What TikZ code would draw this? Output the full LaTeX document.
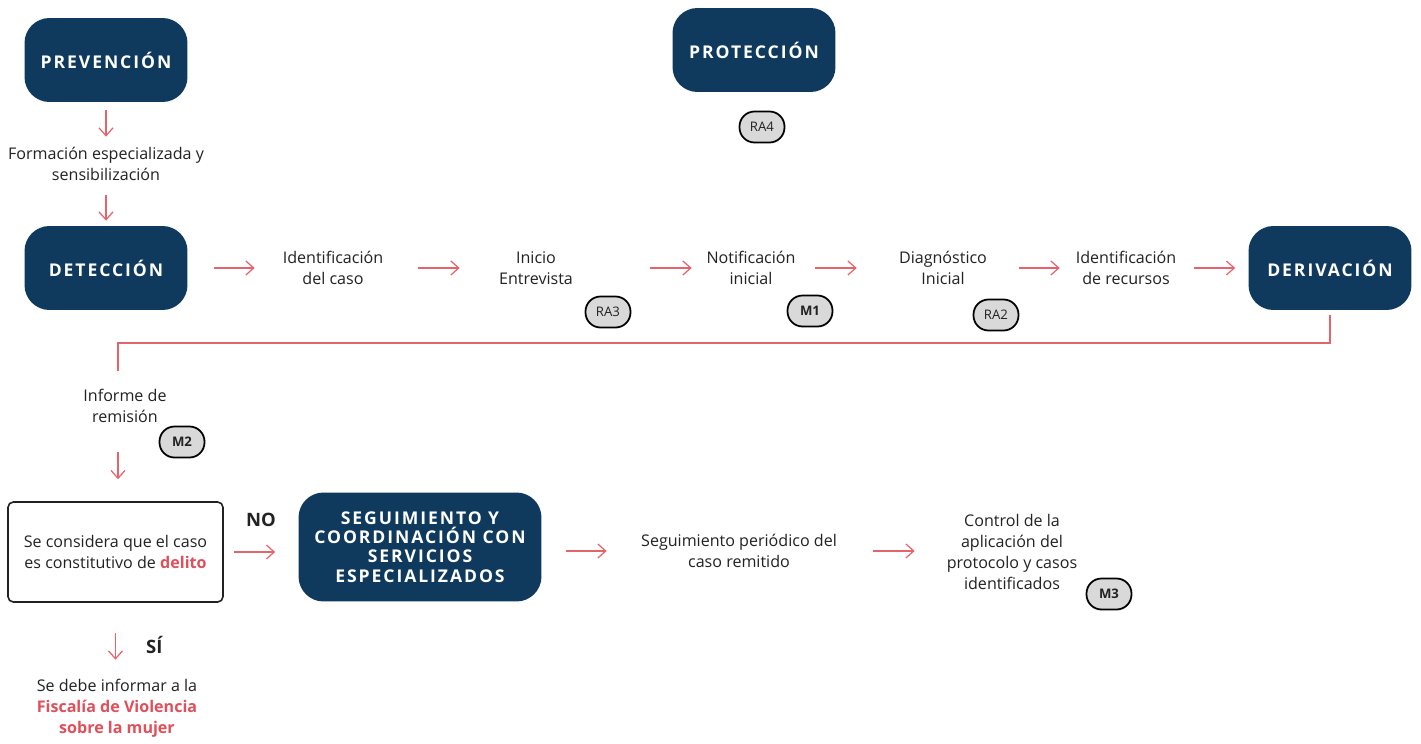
\documentclass[tikz,border=0pt]{standalone}
\usepackage{fontspec}
\setmainfont{Open Sans}
\newfontfamily\headfont[LetterSpace=11]{Open Sans}
\usetikzlibrary{arrows.meta}

\definecolor{navy}{HTML}{0F3A5E}
\definecolor{flecharoja}{HTML}{E5646B}
\definecolor{rojo}{HTML}{E04F5A}
\definecolor{gris}{HTML}{D9D9D9}
\definecolor{texto}{HTML}{222222}

\tikzset{
  fase/.style={fill=navy, rounded corners=0.5cm, minimum width=3.26cm, minimum height=1.68cm,
    text=white, align=center, inner sep=0pt, font=\headfont\bfseries\fontsize{10}{10.9}\selectfont},
  paso/.style={align=center, inner sep=0pt, text=texto, font=\fontsize{9.15}{12}\selectfont},
  marca/.style={draw=black, fill=gris, line width=1pt, rounded corners=0.3cm, minimum width=0.9cm,
    minimum height=0.62cm, inner sep=0pt, text=texto, font=\fontsize{7.5}{8}\selectfont},
  etiqueta/.style={inner sep=0pt, text=texto, font=\bfseries\fontsize{10.5}{12}\selectfont},
  flecha/.style={draw=flecharoja, line width=0.7pt, -{Straight Barb[length=4.5pt,width=8pt]}},
  linea/.style={draw=flecharoja, line width=0.8pt}
}

\begin{document}
\begin{tikzpicture}[x=0.02cm,y=-0.02cm]
  \useasboundingbox (0,0) rectangle (1421,744);
  % fases
  \node[fase] (prev) at (106,60) {PREVENCIÓN};
  \node[fase] (prot) at (754,50) {PROTECCIÓN};
  \node[fase] (det) at (106,268) {DETECCIÓN};
  \node[fase] (der) at (1330,268) {DERIVACIÓN};
  \node[fase, minimum width=4.86cm, minimum height=2.18cm] (seg) at (420,547)
    {SEGUIMIENTO Y\\COORDINACIÓN CON\\SERVICIOS\\ESPECIALIZADOS};
  % pasos
  \node[paso, minimum height=1.08cm] (form) at (106,164) {Formación especializada y\\sensibilización};
  \node[paso, minimum width=3.12cm] (t1) at (333,268) {Identificación\\del caso};
  \node[paso, minimum width=3.04cm] (t2) at (536,268) {Inicio\\Entrevista};
  \node[paso, minimum width=2.36cm] (t3) at (751,268) {Notificación\\inicial};
  \node[paso, minimum width=3.04cm] (t4) at (943,268) {Diagnóstico\\Inicial};
  \node[paso, minimum width=2.64cm] (t5) at (1126,268) {Identificación\\de recursos};
  \node[paso, minimum height=1.4cm] (inf) at (125,406) {Informe de\\remisión};
  \node[paso, draw=texto, line width=0.9pt, rounded corners=3pt, minimum width=4.3cm,
    minimum height=2cm] (dec) at (115.5,552)
    {Se considera que el caso\\es constitutivo de \textbf{\color{rojo}delito}};
  \node[paso, minimum height=1.92cm] (fis) at (117,708)
    {Se debe informar a la\\\textbf{\color{rojo}Fiscalía de Violencia}\\\textbf{\color{rojo}sobre la mujer}};
  \node[paso, minimum width=5.28cm] (s1) at (739,551) {Seguimiento periódico del\\caso remitido};
  \node[paso, minimum width=3.88cm] (ctrl) at (1012,552)
    {Control de la\\aplicación del\\protocolo y casos\\identificados};
  % marcas
  \foreach \n/\x/\y/\t in {ra4/762/127/RA4, ra3/608/312/RA3, m1/810/311/\textbf{M1},
    ra2/996/315/RA2, m2/182/442/\textbf{M2}, m3/1109/594/\textbf{M3}}
    \node[marca] (\n) at (\x,\y) {\t};
  % flechas
  \coordinate (codo) at (118,343);
  \draw[flecha, shorten <=0.16cm] (prev.south) -- (form.north);
  \draw[flecha, shorten <=0.08cm, shorten >=0.1cm] (form.south) -- (det.north);
  \foreach \a/\b/\s/\e in {det/t1/0.52/0, t1/t2/0.14/0, t2/t3/0.76/0, t3/t4/0.1/0.2,
    t4/t5/0/0, t5/der/0.04/0.26}
    \draw[flecha, shorten <=\s cm, shorten >=\e cm] (\a.east) -- (\b.west);
  \draw[linea, shorten <=0.1cm] (der.south) |- (codo) -- (codo |- inf.north);
  \draw[flecha, shorten <=0.22cm, shorten >=0.44cm] (inf.south -| codo) -- (dec.north -| codo);
  \draw[flecha, shorten <=0.2cm, shorten >=0.46cm] (dec.east) -- (dec.east -| seg.west)
    node[midway, above=0.5cm, etiqueta] {NO};
  \draw[flecha, shorten <=0.6cm] (dec.south) -- (dec.south |- fis.north)
    node[pos=0.75, right=0.6cm, etiqueta] {SÍ};
  \draw[flecha, shorten <=0.48cm] (seg.east |- s1.west) -- (s1.west);
  \draw[flecha, shorten <=0.04cm] (s1.east) -- (s1.east -| ctrl.west);
\end{tikzpicture}
\end{document}
